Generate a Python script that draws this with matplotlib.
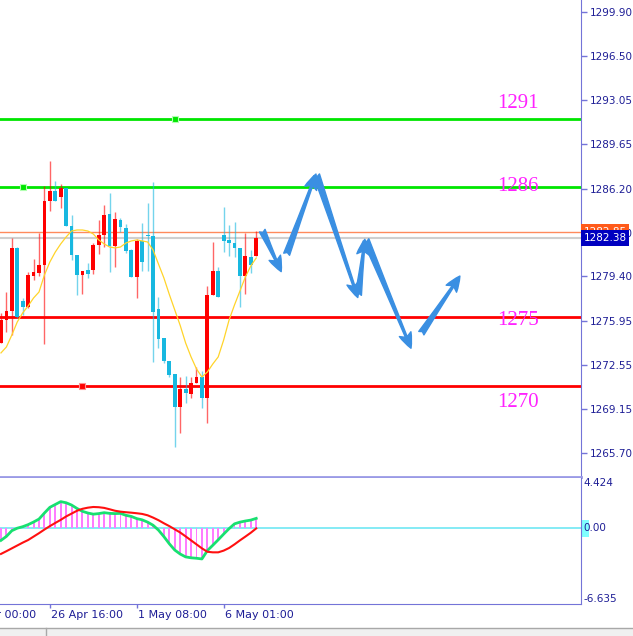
import numpy as np
import matplotlib.pyplot as plt
from matplotlib.patches import Rectangle
from matplotlib.lines import Line2D
from matplotlib.transforms import blended_transform_factory

plt.rcParams['font.family'] = ['DejaVu Sans']

# H4 candles
opens = [1274.24, 1276.02, 1276.72, 1281.61, 1277.50, 1277.03, 1279.43, 1279.67, 1280.29, 1285.25,
         1286.02, 1285.56, 1286.26, 1283.31, 1281.06, 1279.51, 1279.90, 1279.90, 1281.84, 1282.61,
         1284.24, 1281.76, 1283.78, 1283.16, 1281.45, 1279.36, 1282.15, 1282.61, 1282.54, 1276.88,
         1274.63, 1272.85, 1271.84, 1269.28, 1270.67, 1270.29, 1271.14, 1271.60, 1269.98, 1277.96,
         1279.82, 1282.61, 1282.23, 1281.99, 1281.61, 1279.43, 1280.91, 1280.98]
highs = [1276.57, 1278.19, 1282.38, 1281.68, 1277.73, 1279.74, 1280.75, 1282.77, 1286.41, 1288.35,
         1286.80, 1286.57, 1286.26, 1284.16, 1281.06, 1279.82, 1280.44, 1281.99, 1283.78, 1284.94,
         1285.87, 1284.40, 1283.93, 1283.47, 1281.53, 1282.30, 1283.54, 1285.09, 1286.72, 1277.81,
         1274.63, 1272.85, 1271.84, 1271.60, 1271.68, 1271.60, 1272.38, 1272.07, 1278.66, 1282.07,
         1280.13, 1284.78, 1283.39, 1283.62, 1281.61, 1282.77, 1281.45, 1282.92]
lows = [1274.24, 1275.09, 1274.86, 1276.18, 1276.41, 1276.95, 1279.12, 1279.43, 1274.16, 1284.47,
        1285.25, 1284.71, 1283.31, 1280.67, 1277.96, 1278.04, 1279.28, 1279.59, 1281.14, 1281.68,
        1279.74, 1280.13, 1282.85, 1281.22, 1279.36, 1277.73, 1279.82, 1279.82, 1272.77, 1273.85,
        1272.69, 1271.60, 1266.18, 1267.26, 1269.59, 1269.98, 1271.14, 1269.20, 1268.04, 1277.96,
        1277.81, 1281.29, 1280.98, 1280.91, 1277.03, 1278.04, 1279.67, 1280.98]
closes = [1276.02, 1276.72, 1281.61, 1276.26, 1277.03, 1279.51, 1279.74, 1280.29, 1285.25, 1286.02,
          1285.25, 1286.26, 1283.31, 1281.06, 1279.51, 1279.82, 1279.59, 1281.84, 1282.61, 1284.16,
          1281.76, 1283.85, 1283.23, 1281.37, 1279.36, 1282.15, 1280.52, 1282.50, 1276.64, 1274.55,
          1272.85, 1271.76, 1269.28, 1270.67, 1270.36, 1271.14, 1271.60, 1269.98, 1277.96, 1279.82,
          1277.81, 1282.15, 1281.99, 1281.61, 1279.43, 1280.98, 1280.29, 1282.38]

# yellow moving average
ma_values = [1273.47, 1273.93, 1274.86, 1275.87, 1276.57, 1277.11, 1277.73, 1278.19, 1279.51, 1280.52,
             1281.29, 1281.92, 1282.46, 1282.92, 1283.00, 1283.00, 1282.92, 1282.69, 1282.23, 1281.92,
             1281.68, 1281.61, 1281.68, 1281.99, 1282.15, 1282.23, 1282.15, 1282.07, 1281.45, 1280.36,
             1279.28, 1278.00, 1276.80, 1275.60, 1274.24, 1273.16, 1272.23, 1271.60, 1271.99, 1272.61,
             1273.16, 1274.47, 1276.02, 1277.19, 1278.27, 1279.36, 1280.21, 1280.83]

# MACD panel
macd_main = [-1.05, -0.70, -0.20, 0.02, 0.15, 0.33, 0.56, 0.82, 1.35, 1.85,
             2.10, 2.35, 2.25, 2.05, 1.75, 1.50, 1.35, 1.25, 1.30, 1.38,
             1.32, 1.30, 1.32, 1.15, 1.05, 0.86, 0.75, 0.55, 0.28, -0.15,
             -0.72, -1.35, -1.90, -2.25, -2.50, -2.58, -2.62, -2.68, -1.95, -1.48,
             -1.00, -0.50, -0.02, 0.40, 0.55, 0.65, 0.73, 0.88]
macd_signal = [-2.24, -2.00, -1.75, -1.50, -1.25, -1.02, -0.72, -0.42, -0.10, 0.20,
               0.48, 0.75, 1.05, 1.30, 1.55, 1.72, 1.82, 1.88, 1.86, 1.80,
               1.68, 1.55, 1.47, 1.42, 1.38, 1.33, 1.27, 1.15, 0.95, 0.72,
               0.45, 0.20, -0.08, -0.36, -0.70, -1.05, -1.40, -1.75, -2.05, -2.10,
               -2.10, -1.95, -1.72, -1.40, -1.05, -0.72, -0.38, 0.00]

# support / resistance levels
level_prices = [1291.6, 1286.33, 1276.26, 1270.91]
level_colors = ['#00e600', '#00e600', '#ff0000', '#ff0000']
level_marker_x = [32, 4, None, 15]
level_labels = ['1291', '1286', '1275', '1270']
level_label_y = [1292.77, 1286.41, 1275.97, 1269.61]
level_label_x = 95.2

bid_price = 1282.38
ask_price = 1282.85

price_ticks = [1299.90, 1296.50, 1293.05, 1289.65, 1286.20, 1282.80,
               1279.40, 1275.95, 1272.55, 1269.15, 1265.70]
date_pos = [-7, 9, 25, 41]
date_labels = ['24 Apr 00:00', '26 Apr 16:00', '1 May 08:00', '6 May 01:00']

# forecast arrows: (from bar, from price, to bar, to price)
arrow_moves = [(48.1, 1282.95, 51.6, 1279.77),
               (52.6, 1281.12, 58.0, 1287.34),
               (58.1, 1287.27, 65.7, 1277.76),
               (65.8, 1277.96, 67.0, 1282.28),
               (67.2, 1282.23, 75.5, 1273.83),
               (77.4, 1275.00, 84.5, 1279.43)]

axis_col = '#7474d8'
text_col = '#1e1e96'
up_col = '#ff0000'
down_col = '#18b8e0'

W, H = 633, 636
fig = plt.figure(figsize=(W / 100, H / 100), dpi=100, facecolor='white')
ax = fig.add_axes([0, 1 - 477 / H, 581 / W, 477 / H])
axm = fig.add_axes([0, 1 - 604 / H, 581 / W, 126 / H])

x = np.arange(len(opens))
o = np.array(opens); c = np.array(closes)
hi = np.array(highs); lo = np.array(lows)
cols = np.where(c >= o, up_col, down_col)

# levels
for lv, lc, mx, lab, ly in zip(level_prices, level_colors, level_marker_x, level_labels, level_label_y):
    ax.axhline(lv, color=lc, lw=2, zorder=2)
    if mx is not None:
        ax.plot(mx, lv, 's', ms=4, mfc=lc, mec='#b0ffb0' if lc != '#ff0000' else '#ff9090', mew=0.8, zorder=3)
    ax.text(level_label_x, ly, lab, color='#ff22ff', fontsize=15, family='Liberation Serif',
            ha='center', va='center', zorder=6)

ax.axhline(ask_price, color='#ff8a5c', lw=1, zorder=2)
ax.axhline(bid_price, color='#cfcfcf', lw=1.5, zorder=1)

# candles
ax.vlines(x, lo, hi, colors=cols, lw=1, alpha=0.6, zorder=3)
body_lo = np.minimum(o, c)
body_h = np.maximum(np.abs(c - o), 0.08)
ax.bar(x, body_h, bottom=body_lo, width=0.7, color=cols, lw=0, zorder=4)
ax.plot(x, ma_values, color='#ffd42a', lw=0.9, zorder=5)

# forecast arrows
for x0, y0, x1, y1 in arrow_moves:
    ax.annotate('', xy=(x1, y1), xytext=(x0, y0),
                arrowprops=dict(arrowstyle='fancy,head_length=1.1,head_width=0.9,tail_width=0.45',
                                color='#3a8fe2', mutation_scale=10, shrinkA=0, shrinkB=0),
                zorder=7)

ax.set_xlim(-0.18, 106.8)
ax.set_ylim(1263.85, 1300.83)
ax.set_xticks([])
ax.yaxis.tick_right()
ax.set_yticks(price_ticks)
ax.set_yticklabels([f'{p:.2f}' for p in price_ticks])
ax.tick_params(axis='y', direction='out', length=4, width=1, color=axis_col,
               labelcolor=text_col, labelsize=7.5, pad=2)
for s in ['left', 'top']:
    ax.spines[s].set_visible(False)
ax.spines['right'].set_color(axis_col)
ax.spines['bottom'].set_color('#9a9ae6')
ax.spines['bottom'].set_linewidth(2)

tr = blended_transform_factory(ax.transAxes, ax.transData)
ax.text(1.004, ask_price, f'{ask_price:.2f}', transform=tr, color='white', fontsize=7.5,
        va='center', ha='left', bbox=dict(boxstyle='square,pad=0.25', fc='#ff5a1a', ec='none'), zorder=8)
ax.text(1.004, bid_price, f'{bid_price:.2f}', transform=tr, color='white', fontsize=7.5,
        va='center', ha='left', bbox=dict(boxstyle='square,pad=0.25', fc='#0000c0', ec='none'), zorder=9)

# MACD
axm.axhline(0, color='#70e8f4', lw=1.2, zorder=1)
axm.bar(x, macd_main, width=0.35, color='#ff7cff', lw=0, zorder=2)
axm.plot(x, macd_main, color='#18e070', lw=2, zorder=3)
axm.plot(x, macd_signal, color='#ff1010', lw=1.5, zorder=4)
axm.set_xlim(-0.18, 106.8)
axm.set_ylim(-6.635, 4.424)
axm.set_yticks([])
axm.set_xticks(date_pos[1:])
axm.set_xticklabels([])
axm.tick_params(axis='x', direction='out', length=3, width=1, color=axis_col)
for s in ['left', 'top']:
    axm.spines[s].set_visible(False)
axm.spines['right'].set_color(axis_col)
axm.spines['bottom'].set_color(axis_col)

trm = blended_transform_factory(axm.transAxes, axm.transData)
axm.text(1.004, 4.424, '4.424', transform=trm, color=text_col, fontsize=7.5, va='top', ha='left')
axm.text(1.004, -6.635, '-6.635', transform=trm, color=text_col, fontsize=7.5, va='bottom', ha='left')
axm.add_patch(Rectangle((1.002, -0.75), 0.012, 1.5, transform=trm, fc='#80ffff', ec='none', clip_on=False))
axm.text(1.004, 0, '0.00', transform=trm, color=text_col, fontsize=7.5, va='center', ha='left')

for dp, dl in zip(date_pos, date_labels):
    axm.annotate(dl, xy=(dp, 0), xycoords=('data', 'axes fraction'), xytext=(1, -11),
                 textcoords='offset pixels', color=text_col, fontsize=8, ha='left', va='center',
                 annotation_clip=False)

# bottom status strip
fig.add_artist(Rectangle((0, 0), 1, 8 / H, transform=fig.transFigure, fc='#f0f0f0', ec='none'))
fig.add_artist(Line2D([0, 1], [8 / H, 8 / H], transform=fig.transFigure, color='#a8a8a8', lw=1))
fig.add_artist(Line2D([46 / W, 46 / W], [0, 8 / H], transform=fig.transFigure, color='#a8a8a8', lw=1))

fig.savefig('out.png', dpi=100, facecolor='white')
